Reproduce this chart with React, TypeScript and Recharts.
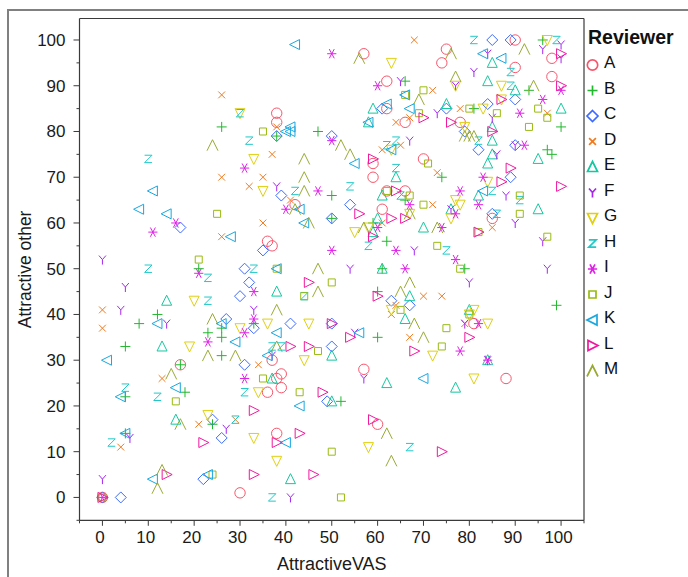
import { ScatterChart, Scatter, XAxis, YAxis, Legend, ReferenceLine } from 'recharts'

type Pair = [number, number]

const reviewerA: Pair[] = [[0,0],[38,84],[38,82],[42,64],[36,56],[37,55],[57,97],[75,98],[74,95],[98,96],[90,94],[62,91],[98,92],[62,85],[66,82],[78,82],[59,73],[70,74],[59,70],[62,67],[66,67],[61,63],[85,61],[90,100],[17,29],[37,30],[39,27],[38,26],[39,24],[36,23],[38,14],[30,1],[81,38],[57,28],[88,26],[60,16]]
const reviewerB: Pair[] = [[26,81],[38,79],[47,80],[50,66],[66,91],[96,100],[93,89],[81,85],[100,81],[97,76],[98,75],[74,70],[66,65],[59,60],[62,56],[50,61],[21,50],[12,40],[8,38],[33,38],[23,36],[26,37],[26,35],[5,33],[26,31],[17,29],[18,23],[5,22],[24,16],[5,14],[61,50],[79,50],[60,45],[99,42],[60,35],[52,21]]
const reviewerC: Pair[] = [[38,79],[39,66],[35,54],[17,59],[50,79],[50,61],[85,100],[89,100],[61,85],[75,85],[84,86],[90,87],[79,80],[82,76],[90,77],[89,70],[54,64],[85,62],[31,50],[32,47],[30,44],[27,39],[41,38],[33,37],[50,38],[50,33],[31,29],[49,21],[24,17],[26,13],[22,4],[4,0],[63,43],[67,42],[0,0]]
const reviewerD: Pair[] = [[26,88],[38,81],[37,75],[26,70],[35,70],[32,68],[41,65],[35,60],[26,57],[68,100],[72,89],[78,85],[97,84],[67,83],[64,82],[61,76],[65,77],[73,71],[72,64],[61,60],[85,59],[0,41],[0,37],[34,29],[13,26],[21,16],[29,17],[4,11],[70,44],[74,44],[64,42],[63,40],[79,38],[67,35]]
const reviewerE: Pair[] = [[85,95],[84,91],[90,89],[59,85],[75,86],[100,85],[58,82],[85,81],[85,78],[85,75],[95,74],[84,73],[64,70],[82,66],[61,66],[76,63],[95,63],[60,61],[70,59],[59,58],[14,43],[38,45],[13,33],[37,26],[50,31],[16,17],[41,4],[61,50],[67,44],[80,41],[66,39],[84,30],[62,25],[77,24],[50,21]]
const reviewerF: Pair[] = [[38,68],[84,97],[100,99],[96,98],[100,96],[81,93],[65,91],[77,90],[73,84],[85,83],[67,78],[90,77],[86,75],[88,66],[76,63],[90,60],[96,56],[68,54],[0,52],[5,46],[4,41],[33,41],[14,38],[37,31],[27,15],[6,13],[0,4],[41,0],[54,50],[97,50],[80,47],[79,38],[55,36],[84,30],[57,26]]
const reviewerG: Pair[] = [[30,84],[33,74],[35,67],[63,95],[97,100],[77,90],[87,90],[87,87],[83,85],[79,81],[63,76],[84,69],[77,65],[78,64],[67,62],[76,61],[55,58],[58,59],[20,43],[36,38],[45,38],[30,37],[19,33],[44,30],[34,23],[23,18],[33,13],[38,8],[63,41],[81,41],[80,40],[84,38],[72,31],[81,26],[58,11]]
const reviewerH: Pair[] = [[30,84],[32,78],[10,74],[42,67],[81,100],[99,100],[89,93],[89,90],[62,77],[64,78],[82,78],[64,72],[54,68],[85,67],[65,66],[91,65],[86,62],[58,55],[75,54],[10,50],[33,50],[23,48],[44,44],[23,43],[37,33],[39,33],[5,24],[12,22],[31,23],[29,17],[2,12],[37,0],[67,11]]
const reviewerI: Pair[] = [[31,72],[47,67],[40,63],[16,60],[11,58],[50,97],[50,78],[60,90],[100,89],[96,87],[91,84],[92,77],[83,70],[78,67],[82,64],[67,64],[77,62],[60,59],[74,59],[50,54],[64,54],[77,52],[21,49],[33,45],[33,39],[23,34],[31,36],[31,26],[66,50],[82,38],[78,32],[84,30],[0,0]]
const reviewerJ: Pair[] = [[35,80],[25,62],[21,52],[70,89],[66,88],[80,85],[95,85],[69,84],[86,84],[97,83],[93,81],[71,73],[62,67],[67,66],[91,66],[70,64],[91,62],[82,58],[97,57],[73,55],[38,50],[44,44],[47,32],[35,26],[43,23],[16,21],[24,5],[50,47],[78,50],[65,41],[80,40],[75,37],[74,33],[50,10],[52,0],[0,0]]
const reviewerK: Pair[] = [[42,99],[40,80],[41,81],[41,80],[11,67],[8,63],[14,62],[43,63],[44,60],[28,57],[66,88],[83,97],[87,96],[62,86],[67,85],[58,82],[63,76],[55,73],[83,67],[38,50],[26,38],[12,38],[29,34],[38,36],[1,30],[36,31],[16,24],[4,22],[43,20],[5,14],[40,12],[11,4],[23,5],[56,36],[70,26]]
const reviewerL: Pair[] = [[100,97],[100,90],[87,87],[70,83],[76,82],[85,80],[59,74],[89,72],[87,69],[100,68],[64,67],[63,61],[66,61],[56,62],[59,57],[82,58],[45,47],[41,33],[45,33],[48,23],[33,19],[43,14],[38,12],[22,12],[14,5],[33,5],[46,5],[60,44],[50,38],[54,35],[80,35],[68,32],[59,17],[74,10],[0,0]]
const reviewerM: Pair[] = [[24,77],[44,74],[44,70],[44,67],[42,63],[45,60],[56,96],[76,97],[92,98],[77,92],[94,90],[69,87],[80,79],[79,79],[81,79],[52,77],[54,75],[67,62],[57,59],[73,59],[47,50],[47,45],[38,41],[24,39],[38,33],[23,31],[29,31],[15,27],[17,16],[13,6],[12,2],[67,47],[65,45],[68,38],[70,35],[62,14],[63,8]]

const reviewers = ['A', 'B', 'C', 'D', 'E', 'F', 'G', 'H', 'I', 'J', 'K', 'L', 'M']
const values = [reviewerA, reviewerB, reviewerC, reviewerD, reviewerE, reviewerF, reviewerG, reviewerH, reviewerI, reviewerJ, reviewerK, reviewerL, reviewerM]
const colors = ['#f8566c', '#22b82e', '#3d6bff', '#f07a1e', '#14c8a0', '#a626f0', '#e0d010', '#20c8c8', '#e020e8', '#99bb11', '#19a7e0', '#f0189e', '#99aa33']
const axisTicks = [-5, 0, 5, 10, 15, 20, 25, 30, 35, 40, 45, 50, 55, 60, 65, 70, 75, 80, 85, 90, 95, 100, 105]

const FONT = '"Liberation Sans", Arial, sans-serif'
const AXIS = '#3a3a3a'

// one glyph per reviewer, centred on 0,0
const glyphs: Record<string, string> = {
  B: 'M-5 0H5M0 -5V5',
  C: 'M0 -5.5L5.5 0L0 5.5L-5.5 0Z',
  D: 'M-3.4 -3.4L3.4 3.4M-3.4 3.4L3.4 -3.4',
  E: 'M0 -5.5L5 4.5H-5Z',
  F: 'M-3.5 -4L0 0L3.5 -4M0 0V5',
  G: 'M-5 -4.5H5L0 5.5Z',
  H: 'M-3.7 -3.7H3.7L-3.7 3.7H3.7',
  I: 'M-4.6 0H4.6M-2.5 -4.6L2.5 4.6M2.5 -4.6L-2.5 4.6',
  J: 'M-3.5 -3.5H3.5V3.5H-3.5Z',
  K: 'M-5.5 0L4.5 -5V5Z',
  L: 'M5.5 0L-4.5 -5V5Z',
  M: 'M-5.5 5.5L0 -5.5L5.5 5.5',
}

function Marker({ name, x, y, color, width = 1 }: { name: string; x: number; y: number; color: string; width?: number }) {
  if (name === 'A') return <circle cx={x} cy={y} r={5.2} fill="none" stroke={color} strokeWidth={width} />
  return <path d={glyphs[name]} transform={`translate(${x},${y})`} fill="none" stroke={color} strokeWidth={width} />
}

function XTick({ x, y, payload }: any) {
  const major = payload.value % 10 === 0
  return (
    <g>
      <line x1={x} x2={x} y1={y} y2={y + (major ? 5.5 : 3)} stroke={AXIS} strokeWidth={1} />
      {major && (
        <text x={x - 2.5} y={y + 23} textAnchor="middle" fontSize={17} fontFamily={FONT} fill="#1a1a1a">
          {payload.value}
        </text>
      )}
    </g>
  )
}

function YTick({ x, y, payload }: any) {
  const major = payload.value % 10 === 0
  return (
    <g>
      <line x1={x - (major ? 6 : 3)} x2={x} y1={y} y2={y} stroke={AXIS} strokeWidth={1} />
      {major && (
        <text x={x - 14} y={y + 6} textAnchor="end" fontSize={17} fontFamily={FONT} fill="#1a1a1a">
          {payload.value}
        </text>
      )}
    </g>
  )
}

function ReviewerLegend() {
  return (
    <div style={{ width: 99, fontFamily: FONT, color: '#111' }}>
      <div style={{ fontSize: 19.5, fontWeight: 'bold', height: 22, lineHeight: '22px' }}>Reviewer</div>
      <svg width={99} height={335} style={{ display: 'block', overflow: 'visible' }}>
        {reviewers.map((name, i) => (
          <g key={name}>
            <Marker name={name} x={4.5} y={i * 25.5 + 17} color={colors[i]} width={1.7} />
            <text x={16} y={i * 25.5 + 20} fontSize={17} fill="#111">{name}</text>
          </g>
        ))}
      </svg>
    </div>
  )
}

export default function App() {
  return (
    <div style={{ position: 'absolute', left: 0, top: 0, width: 688, height: 577, overflow: 'hidden', background: '#fff' }}>
      <div style={{ position: 'absolute', left: 7, top: 9, width: 681, height: 568, borderLeft: '2px solid #808080', borderTop: '2px solid #808080', boxSizing: 'border-box' }} />
      <div style={{ position: 'absolute', left: 0, top: 0 }}>
        <ScatterChart width={688} height={577} margin={{ top: 18.5, right: 5, bottom: 0, left: 0 }}>
          <XAxis
            type="number"
            dataKey="x"
            domain={[-5, 105]}
            ticks={axisTicks}
            interval={0}
            allowDataOverflow
            height={56.7}
            tickSize={0}
            tickMargin={0}
            tick={<XTick />}
            stroke={AXIS}
            strokeWidth={1.2}
            label={{ value: 'AttractiveVAS', position: 'insideBottom', offset: 7, fontSize: 18, fontFamily: FONT, fill: '#1a1a1a' }}
          />
          <YAxis
            type="number"
            dataKey="y"
            domain={[-5, 104.7]}
            ticks={axisTicks.slice(0, -1)}
            interval={0}
            allowDataOverflow
            width={79.5}
            tickSize={0}
            tickMargin={0}
            tick={<YTick />}
            stroke={AXIS}
            strokeWidth={1.2}
            label={{ value: 'Attractive other', angle: -90, position: 'insideLeft', offset: 25, fontSize: 17.5, fontFamily: FONT, fill: '#1a1a1a', style: { textAnchor: 'middle' } }}
          />
          <ReferenceLine x={105} stroke={AXIS} strokeWidth={1.2} />
          <ReferenceLine y={104.7} stroke={AXIS} strokeWidth={1.2} />
          {reviewers.map((name, i) => (
            <Scatter
              key={name}
              name={name}
              data={values[i].map(([x, y]) => ({ x, y }))}
              isAnimationActive={false}
              shape={(props: any) => <Marker name={name} x={props.cx} y={props.cy} color={colors[i]} />}
            />
          ))}
          <Legend
            layout="vertical"
            align="right"
            verticalAlign="top"
            content={<ReviewerLegend />}
            wrapperStyle={{ top: 26, right: 1, width: 99 }}
          />
        </ScatterChart>
      </div>
    </div>
  )
}
